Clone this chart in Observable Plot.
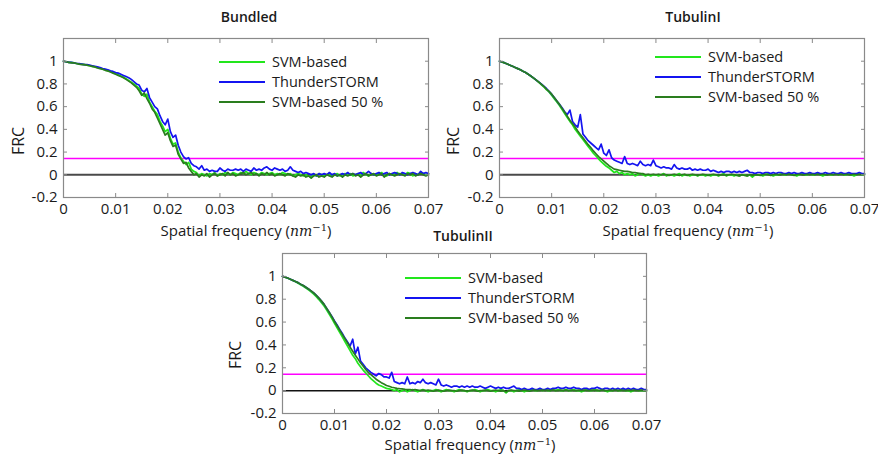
<!DOCTYPE html>
<html>
<head>
<meta charset="utf-8">
<script src="https://cdn.jsdelivr.net/npm/d3@7"></script>
<script src="https://cdn.jsdelivr.net/npm/@observablehq/plot@0.6"></script>
<style>
  html, body { margin: 0; padding: 0; background: #fff; }
  #wrap { position: relative; width: 878px; height: 455px; background: #fff; font-family: "Open Sans", Lato, sans-serif; color: #1a1a1a; overflow: hidden; }
  .panel { position: absolute; }
  .txt { position: absolute; transform: translate(-50%, -50%); white-space: nowrap; line-height: 1; }
  .title { font-size: 14px; font-weight: 600; }
  .xlab { font-size: 15px; }
  .xlab i { font-family: "DejaVu Serif", serif; font-size: 14px; }
  .xlab sup { font-family: "DejaVu Serif", serif; font-size: 10px; line-height: 0; vertical-align: 0.5em; }
  .ylab { font-size: 16px; transform: translate(-50%, -50%) rotate(-90deg); }
  .leg { position: absolute; font-size: 14.5px; line-height: 16px; white-space: nowrap; display: flex; align-items: center; }
  .leg span.ln { display: inline-block; height: 2px; margin-right: 7px; }
</style>
</head>
<body>
<div id="wrap"></div>
<script>
// ---------- Data ----------
const seriesNames = ["SVM-based", "ThunderSTORM", "SVM-based 50 %"];
const seriesColors = ["#22e61c", "#1414f0", "#2a7d1e"];
const panelTitles = ["Bundled", "TubulinI", "TubulinII"];
const xTicks = [0, 0.01, 0.02, 0.03, 0.04, 0.05, 0.06, 0.07];
const xTickLabels = ["0", "0.01", "0.02", "0.03", "0.04", "0.05", "0.06", "0.07"];
const yTicks = [-0.2, 0, 0.2, 0.4, 0.6, 0.8, 1];
const yTickLabels = ["-0.2", "0", "0.2", "0.4", "0.6", "0.8", "1"];
const threshold = [1 / 7];
const zeroLine = [0];
const freqStep = 0.0005; // sampling of spatial frequency (nm^-1), 141 samples 0..0.07

// Bundled
const bundledSVM = [
  1.00, 0.995, 0.99, 0.99, 0.985, 0.98, 0.975, 0.975, 0.97, 0.965,
  0.96, 0.955, 0.95, 0.945, 0.94, 0.93, 0.925, 0.915, 0.91, 0.90,
  0.89, 0.88, 0.87, 0.86, 0.845, 0.83, 0.815, 0.80, 0.78, 0.76,
  0.71, 0.69, 0.71, 0.64, 0.60, 0.56, 0.53, 0.47, 0.43, 0.38,
  0.40, 0.32, 0.27, 0.28, 0.20, 0.15, 0.12, 0.09, 0.11, 0.05,
  0.03, 0.02, -0.01, 0.01, 0.00, -0.01, 0.01, 0.00, 0.02, -0.01,
  0.01, 0.00, 0.02, 0.01, 0.00, 0.02, 0.01, 0.00, 0.02, 0.01,
  0.03, 0.01, 0.00, 0.02, 0.01, 0.00, 0.02, 0.01, 0.00, 0.01,
  0.02, 0.00, 0.01, 0.00, 0.02, 0.01, 0.00, 0.01, -0.01, 0.00,
  0.01, 0.00, -0.01, 0.00, -0.01, -0.02, 0.00, -0.01, 0.01, 0.00,
  -0.01, 0.00, 0.01, -0.01, 0.00, 0.01, -0.01, 0.00, 0.01, 0.00,
  0.01, -0.01, 0.00, 0.01, 0.00, 0.02, 0.00, -0.01, 0.01, 0.00,
  0.00, 0.01, 0.02, 0.00, -0.01, 0.01, 0.00, 0.01, 0.02, 0.00,
  0.01, 0.00, 0.02, 0.01, -0.01, 0.01, 0.00, 0.02, 0.01, 0.00,
  0.01
];
const bundledThunder = [
  1.00, 0.995, 0.99, 0.99, 0.985, 0.98, 0.98, 0.975, 0.97, 0.97,
  0.965, 0.96, 0.955, 0.95, 0.945, 0.935, 0.93, 0.925, 0.915, 0.91,
  0.90, 0.895, 0.885, 0.875, 0.865, 0.855, 0.84, 0.82, 0.80, 0.79,
  0.745, 0.73, 0.76, 0.68, 0.64, 0.60, 0.58, 0.52, 0.47, 0.44,
  0.49, 0.38, 0.33, 0.35, 0.26, 0.20, 0.16, 0.14, 0.15, 0.10,
  0.08, 0.07, 0.05, 0.08, 0.04, 0.05, 0.03, 0.04, 0.03, 0.03,
  0.06, 0.04, 0.03, 0.05, 0.04, 0.04, 0.05, 0.04, 0.05, 0.03,
  0.05, 0.04, 0.03, 0.06, 0.04, 0.05, 0.04, 0.06, 0.07, 0.05,
  0.04, 0.06, 0.05, 0.04, 0.05, 0.03, 0.04, 0.07, 0.04, 0.03,
  0.02, 0.03, 0.01, 0.02, 0.01, 0.00, 0.01, -0.01, 0.01, 0.00,
  0.01, 0.00, 0.02, 0.00, 0.01, -0.01, 0.00, 0.01, 0.00, 0.02,
  0.00, 0.01, 0.00, 0.01, 0.02, 0.00, 0.01, 0.03, 0.01, 0.00,
  0.01, 0.02, 0.00, 0.01, 0.02, 0.00, 0.01, 0.02, 0.01, 0.00,
  0.02, 0.01, 0.00, 0.01, 0.02, 0.01, 0.00, 0.03, 0.01, 0.02,
  0.01
];
const bundledSVM50 = [
  1.00, 0.995, 0.99, 0.985, 0.985, 0.98, 0.975, 0.97, 0.97, 0.965,
  0.96, 0.955, 0.95, 0.94, 0.935, 0.93, 0.92, 0.915, 0.905, 0.895,
  0.885, 0.875, 0.865, 0.855, 0.84, 0.825, 0.81, 0.79, 0.77, 0.74,
  0.70, 0.72, 0.67, 0.63, 0.58, 0.55, 0.50, 0.45, 0.40, 0.35,
  0.37, 0.30, 0.25, 0.26, 0.18, 0.14, 0.10, 0.11, 0.06, 0.03,
  0.00, 0.01, -0.02, 0.00, -0.01, 0.01, -0.02, 0.00, 0.01, -0.01,
  0.00, 0.01, -0.01, 0.02, 0.00, 0.01, -0.01, 0.00, 0.01, 0.02,
  0.00, 0.01, 0.02, 0.00, 0.01, -0.01, 0.01, 0.00, 0.02, 0.00,
  0.01, -0.01, 0.00, 0.01, 0.00, -0.01, 0.01, 0.00, -0.01, -0.02,
  0.00, -0.01, 0.00, -0.02, -0.01, -0.03, -0.01, 0.00, -0.02, -0.01,
  -0.02, 0.00, -0.01, -0.02, 0.00, -0.01, 0.00, -0.02, 0.00, -0.01,
  0.00, 0.01, -0.01, 0.00, -0.02, 0.00, 0.01, -0.01, 0.00, 0.01,
  -0.01, 0.00, 0.01, -0.02, 0.00, 0.01, 0.00, -0.01, 0.00, 0.01,
  0.00, -0.01, 0.01, 0.00, 0.01, -0.01, 0.00, 0.01, 0.00, -0.01,
  0.00
];

// TubulinI
const tub1SVM = [
  1.00, 0.992, 0.985, 0.975, 0.965, 0.955, 0.945, 0.935, 0.925, 0.912,
  0.90, 0.885, 0.87, 0.852, 0.835, 0.815, 0.795, 0.775, 0.75, 0.73,
  0.70, 0.67, 0.64, 0.61, 0.575, 0.54, 0.505, 0.47, 0.44, 0.40,
  0.37, 0.34, 0.31, 0.28, 0.25, 0.22, 0.19, 0.165, 0.14, 0.115,
  0.095, 0.075, 0.06, 0.04, 0.02, 0.03, 0.01, 0.02, 0.00, 0.01,
  0.00, 0.01, -0.01, 0.00, 0.01, 0.00, -0.01, 0.00, -0.01, 0.00,
  0.00, -0.01, 0.00, 0.01, -0.01, 0.00, 0.00, -0.01, 0.00, 0.01,
  -0.01, 0.00, 0.00, -0.01, 0.00, 0.00, -0.01, 0.00, 0.00, -0.01,
  0.00, -0.01, 0.00, 0.00, -0.01, 0.00, 0.01, -0.01, 0.00, 0.00,
  -0.01, 0.00, -0.01, 0.00, 0.00, -0.01, 0.00, -0.02, 0.00, 0.00,
  0.00, -0.01, 0.00, 0.01, 0.00, -0.01, 0.00, 0.00, 0.01, 0.00,
  0.00, 0.01, 0.00, 0.00, -0.01, 0.00, 0.01, 0.00, 0.00, 0.01,
  0.00, 0.00, 0.01, 0.00, -0.01, 0.00, 0.01, 0.00, 0.00, 0.01,
  0.00, 0.01, 0.00, 0.00, 0.01, 0.00, -0.01, 0.00, 0.01, 0.00,
  0.00
];
const tub1Thunder = [
  1.00, 0.993, 0.985, 0.975, 0.965, 0.955, 0.945, 0.935, 0.925, 0.912,
  0.90, 0.885, 0.87, 0.853, 0.835, 0.818, 0.80, 0.78, 0.76, 0.735,
  0.71, 0.68, 0.65, 0.62, 0.59, 0.555, 0.53, 0.57, 0.47, 0.44,
  0.42, 0.53, 0.36, 0.33, 0.30, 0.28, 0.26, 0.24, 0.22, 0.27,
  0.19, 0.17, 0.22, 0.15, 0.13, 0.12, 0.11, 0.10, 0.16, 0.10,
  0.09, 0.10, 0.09, 0.08, 0.12, 0.09, 0.08, 0.09, 0.08, 0.13,
  0.08, 0.07, 0.06, 0.07, 0.06, 0.06, 0.05, 0.09, 0.06, 0.05,
  0.06, 0.05, 0.05, 0.06, 0.04, 0.05, 0.04, 0.05, 0.04, 0.04,
  0.05, 0.03, 0.04, 0.03, 0.02, 0.03, 0.02, 0.03, 0.03, 0.02,
  0.03, 0.02, 0.03, 0.02, 0.03, 0.04, 0.02, 0.02, 0.01, 0.02,
  0.02, 0.01, 0.02, 0.02, 0.01, 0.02, 0.01, 0.02, 0.02, 0.01,
  0.01, 0.02, 0.01, 0.02, 0.01, 0.01, 0.02, 0.01, 0.01, 0.02,
  0.01, 0.01, 0.02, 0.01, 0.01, 0.02, 0.01, 0.01, 0.02, 0.01,
  0.01, 0.02, 0.01, 0.01, 0.02, 0.01, 0.01, 0.01, 0.02, 0.01,
  0.01
];
const tub1SVM50 = [
  1.00, 0.993, 0.985, 0.975, 0.965, 0.955, 0.945, 0.935, 0.925, 0.912,
  0.90, 0.885, 0.87, 0.853, 0.835, 0.817, 0.798, 0.778, 0.755, 0.735,
  0.71, 0.68, 0.65, 0.62, 0.585, 0.55, 0.515, 0.48, 0.45, 0.42,
  0.385, 0.355, 0.325, 0.295, 0.265, 0.24, 0.21, 0.185, 0.16, 0.14,
  0.12, 0.10, 0.08, 0.065, 0.05, 0.045, 0.04, 0.035, 0.03, 0.03,
  0.025, 0.02, 0.02, 0.015, 0.01, 0.01, 0.00, 0.005, 0.00, 0.005,
  0.00, 0.005, 0.00, 0.005, 0.00, -0.005, 0.00, 0.005, 0.00, -0.005,
  0.00, 0.005, -0.005, 0.00, 0.005, 0.00, -0.005, 0.00, 0.005, 0.00,
  -0.005, 0.00, 0.005, 0.00, -0.005, 0.00, 0.00, -0.005, 0.00, 0.005,
  0.00, -0.005, -0.01, 0.00, -0.005, -0.01, 0.00, -0.005, 0.00, 0.00,
  -0.005, 0.00, 0.005, 0.00, -0.005, 0.00, 0.005, 0.00, 0.00, 0.005,
  0.00, 0.005, 0.00, -0.005, 0.00, 0.005, 0.00, 0.00, 0.005, 0.00,
  0.005, 0.00, 0.005, 0.00, 0.005, 0.00, 0.00, 0.005, 0.00, 0.005,
  0.00, 0.005, 0.00, 0.005, 0.00, 0.00, 0.005, 0.00, 0.005, 0.00,
  0.005
];

// TubulinII
const tub2SVM = [
  1.00, 0.992, 0.984, 0.974, 0.963, 0.952, 0.94, 0.927, 0.914, 0.898,
  0.882, 0.864, 0.845, 0.822, 0.797, 0.77, 0.74, 0.705, 0.668, 0.63,
  0.59, 0.55, 0.51, 0.47, 0.43, 0.39, 0.35, 0.31, 0.28, 0.24,
  0.21, 0.18, 0.155, 0.13, 0.105, 0.085, 0.065, 0.05, 0.04, 0.03,
  0.02, 0.015, 0.01, 0.00, 0.01, -0.01, 0.00, 0.01, -0.01, 0.00,
  0.01, 0.00, -0.01, 0.00, 0.01, 0.00, -0.01, 0.00, 0.00, 0.01,
  0.00, -0.01, 0.00, 0.01, 0.00, 0.00, -0.01, 0.00, 0.01, 0.00,
  0.00, -0.01, 0.00, 0.00, 0.01, 0.00, -0.01, 0.00, 0.00, 0.01,
  0.00, 0.00, -0.01, 0.00, 0.01, 0.00, -0.02, 0.00, 0.00, -0.01,
  0.00, 0.01, 0.00, -0.01, 0.00, 0.00, 0.01, 0.00, 0.00, 0.01,
  0.00, 0.01, 0.00, 0.00, 0.01, 0.00, 0.01, 0.00, 0.00, 0.01,
  0.00, 0.00, 0.01, 0.00, 0.00, -0.01, 0.00, 0.01, 0.00, 0.00,
  0.01, 0.00, 0.00, 0.01, 0.00, -0.01, 0.00, 0.00, 0.01, 0.00,
  0.00, 0.01, 0.00, 0.00, -0.01, 0.00, 0.01, 0.00, 0.00, 0.00,
  0.00
];
const tub2Thunder = [
  1.00, 0.993, 0.985, 0.975, 0.965, 0.955, 0.945, 0.932, 0.92, 0.905,
  0.89, 0.873, 0.855, 0.833, 0.81, 0.783, 0.755, 0.72, 0.685, 0.65,
  0.61, 0.575, 0.535, 0.50, 0.46, 0.425, 0.39, 0.45, 0.32, 0.38,
  0.26, 0.23, 0.20, 0.18, 0.16, 0.145, 0.13, 0.15, 0.14, 0.12,
  0.12, 0.11, 0.16, 0.08, 0.07, 0.06, 0.07, 0.06, 0.12, 0.06,
  0.07, 0.06, 0.08, 0.07, 0.10, 0.07, 0.06, 0.07, 0.06, 0.05,
  0.10, 0.05, 0.04, 0.05, 0.04, 0.03, 0.04, 0.04, 0.03, 0.04,
  0.03, 0.04, 0.03, 0.04, 0.03, 0.03, 0.04, 0.03, 0.02, 0.03,
  0.04, 0.03, 0.02, 0.03, 0.02, 0.03, 0.02, 0.02, 0.03, 0.04,
  0.02, 0.02, 0.01, 0.02, 0.01, 0.01, 0.02, 0.01, 0.01, 0.02,
  0.01, 0.01, 0.02, 0.01, 0.02, 0.02, 0.03, 0.02, 0.02, 0.03,
  0.02, 0.02, 0.03, 0.02, 0.02, 0.01, 0.02, 0.02, 0.01, 0.02,
  0.02, 0.03, 0.02, 0.01, 0.02, 0.02, 0.01, 0.02, 0.01, 0.02,
  0.01, 0.02, 0.01, 0.02, 0.01, 0.02, 0.01, 0.01, 0.02, 0.01,
  0.01
];
const tub2SVM50 = [
  1.00, 0.993, 0.985, 0.975, 0.965, 0.955, 0.945, 0.932, 0.92, 0.905,
  0.89, 0.873, 0.855, 0.833, 0.81, 0.783, 0.755, 0.72, 0.685, 0.645,
  0.605, 0.568, 0.53, 0.492, 0.455, 0.418, 0.38, 0.345, 0.31, 0.278,
  0.245, 0.215, 0.185, 0.16, 0.14, 0.12, 0.10, 0.085, 0.07, 0.058,
  0.045, 0.038, 0.03, 0.025, 0.02, 0.017, 0.015, 0.012, 0.01, 0.01,
  0.005, 0.01, 0.005, 0.00, 0.005, 0.00, 0.005, 0.00, -0.005, 0.00,
  0.005, 0.00, -0.005, 0.00, 0.005, 0.00, 0.00, -0.005, 0.00, 0.005,
  0.00, -0.005, 0.00, 0.005, 0.00, -0.005, 0.00, 0.00, 0.005, 0.00,
  -0.005, 0.00, 0.005, 0.00, -0.005, 0.00, -0.01, 0.00, 0.005, 0.00,
  0.00, -0.005, 0.00, 0.005, 0.00, -0.005, 0.00, 0.005, 0.00, 0.00,
  0.005, 0.00, 0.005, 0.00, 0.005, 0.00, 0.00, 0.005, 0.00, 0.005,
  0.00, 0.005, 0.00, 0.00, 0.005, 0.00, 0.005, 0.00, 0.00, 0.005,
  0.00, 0.005, 0.00, 0.005, 0.00, 0.00, 0.005, 0.00, 0.005, 0.00,
  0.005, 0.00, 0.00, 0.005, 0.00, 0.005, 0.00, 0.00, 0.005, 0.00,
  0.00
];

// ---------- Layout ----------
const panels = [
  { title: panelTitles[0], series: [bundledSVM, bundledThunder, bundledSVM50],
    left: 0, top: 0, width: 440, height: 230, mL: 63, mR: 12, mT: 38, mB: 33, zeroColor: "#4a4a4a", zeroW: 2,
    titlePos: [249, 17], xlabPos: [246, 230], ylabPos: [18, 141], legend: { x: 219, ys: [62, 82, 102], len: 46 } },
  { title: panelTitles[1], series: [tub1SVM, tub1Thunder, tub1SVM50],
    left: 438, top: 0, width: 440, height: 230, mL: 61, mR: 14, mT: 38, mB: 33, zeroColor: "#4a4a4a", zeroW: 2,
    titlePos: [693, 17], xlabPos: [688, 230], ylabPos: [453, 141], legend: { x: 655, ys: [57, 77, 97], len: 46 } },
  { title: panelTitles[2], series: [tub2SVM, tub2Thunder, tub2SVM50],
    left: 210, top: 222, width: 460, height: 230, mL: 72, mR: 24, mT: 31, mB: 39, zeroColor: "#111", zeroW: 1.5,
    titlePos: [463, 236], xlabPos: [470, 444], ylabPos: [235, 355], legend: { x: 405, ys: [278, 298, 318], len: 56 } }
];

const wrap = document.getElementById("wrap");
const freq = d3.range(141).map(i => +(i * freqStep).toFixed(4));

function addText(cls, x, y, html) {
  const d = document.createElement("div");
  d.className = "txt " + cls;
  d.style.left = x + "px";
  d.style.top = y + "px";
  d.innerHTML = html;
  wrap.appendChild(d);
}

for (const p of panels) {
  const lineMarks = p.series.map((vals, s) =>
    Plot.line(freq.map((f, i) => ({ f, v: vals[i] })), {
      x: "f", y: "v", stroke: seriesColors[s], strokeWidth: 1.7
    })
  );
  const chart = Plot.plot({
    width: p.width, height: p.height,
    marginLeft: p.mL, marginRight: p.mR, marginTop: p.mT, marginBottom: p.mB,
    style: { fontFamily: "'Open Sans', Lato, sans-serif", fontSize: "15px", background: "transparent", overflow: "visible", color: "#1a1a1a" },
    x: { domain: [0, 0.07] },
    y: { domain: [-0.2, 1.2] },
    marks: [
      Plot.ruleY(threshold, { stroke: "#ff00ff", strokeWidth: 1.6 }),
      Plot.ruleY(zeroLine, { stroke: p.zeroColor, strokeWidth: p.zeroW }),
      ...lineMarks,
      Plot.frame({ stroke: "#8a8a8a", strokeWidth: 1.2 }),
      Plot.axisX(xTicks, { anchor: "bottom", tickSize: -4, tickPadding: 10, stroke: "#8a8a8a", fill: "#1a1a1a", label: null,
        tickFormat: d => xTickLabels[xTicks.indexOf(d)] }),
      Plot.axisX(xTicks, { anchor: "top", tickSize: -4, stroke: "#8a8a8a", fill: "none", label: null }),
      Plot.axisY(yTicks, { anchor: "left", tickSize: -4, tickPadding: 10, stroke: "#8a8a8a", fill: "#1a1a1a", label: null,
        tickFormat: d => yTickLabels[yTicks.indexOf(d)] }),
      Plot.axisY(yTicks, { anchor: "right", tickSize: -4, stroke: "#8a8a8a", fill: "none", label: null })
    ]
  });
  const holder = document.createElement("div");
  holder.className = "panel";
  holder.style.left = p.left + "px";
  holder.style.top = p.top + "px";
  holder.appendChild(chart);
  wrap.appendChild(holder);

  addText("title", p.titlePos[0], p.titlePos[1], p.title);
  addText("xlab", p.xlabPos[0], p.xlabPos[1], 'Spatial frequency (<i>nm</i><sup>−1</sup>)');
  addText("ylab", p.ylabPos[0], p.ylabPos[1], "FRC");

  seriesNames.forEach((name, s) => {
    const row = document.createElement("div");
    row.className = "leg";
    row.style.left = p.legend.x + "px";
    row.style.top = (p.legend.ys[s] - 8) + "px";
    row.style.height = "16px";
    row.innerHTML = `<span class="ln" style="width:${p.legend.len}px;background:${seriesColors[s]}"></span><span>${name}</span>`;
    wrap.appendChild(row);
  });
}
</script>
</body>
</html>
